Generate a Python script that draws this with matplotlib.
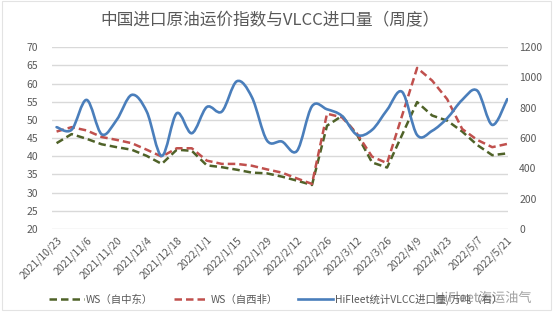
import numpy as np
import matplotlib
matplotlib.use('Agg')
import matplotlib.pyplot as plt
from matplotlib.path import Path
from matplotlib.patches import PathPatch, Rectangle
from matplotlib.lines import Line2D
import matplotlib.patheffects as pe

plt.rcParams['font.family'] = ['Noto Sans CJK SC', 'DejaVu Sans']

# Weekly data
weeks = ['2021/10/23', '2021/10/30', '2021/11/6', '2021/11/13', '2021/11/20', '2021/11/27',
         '2021/12/4', '2021/12/11', '2021/12/18', '2021/12/25', '2022/1/1', '2022/1/8',
         '2022/1/15', '2022/1/22', '2022/1/29', '2022/2/5', '2022/2/12', '2022/2/19',
         '2022/2/26', '2022/3/5', '2022/3/12', '2022/3/19', '2022/3/26', '2022/4/2',
         '2022/4/9', '2022/4/16', '2022/4/23', '2022/4/30', '2022/5/7', '2022/5/14', '2022/5/21']

ws_mideast = [43.6, 46.1, 44.8, 43.3, 42.5, 41.8, 40.1, 37.9, 41.8, 41.5, 37.5, 37.0,
              36.3, 35.5, 35.3, 34.4, 33.3, 32.1, 48.4, 51.1, 45.9, 38.3, 36.9, 45.9,
              54.9, 51.2, 49.8, 46.8, 43.1, 40.3, 40.8]
ws_westafrica = [46.8, 48.0, 47.1, 45.3, 44.5, 43.6, 41.8, 39.9, 42.2, 42.2, 38.8, 37.9,
                 37.9, 37.4, 36.4, 35.5, 33.9, 32.4, 51.7, 50.7, 46.2, 39.9, 38.1, 51.2,
                 64.3, 60.8, 55.7, 47.5, 44.5, 42.5, 43.4]
vlcc_imports = [672, 655, 852, 625, 720, 885, 775, 482, 764, 632, 805, 775,
                975, 870, 585, 577, 515, 810, 790, 746, 621, 654, 786, 905,
                620, 648, 731, 852, 913, 687, 857]

labels = ['WS（自中东）', 'WS（自西非）', 'HiFleet统计VLCC进口量/万吨（右）']
title = '中国进口原油运价指数与VLCC进口量（周度）'

GREEN = '#4F6228'
RED = '#C0504D'
BLUE = '#4A7EBB'
GRID = '#D9D9D9'
TXT = '#595959'


def smooth_path(x, y):
    # Excel-style smoothed line: Bezier segments with Catmull-Rom tangents
    pts = np.column_stack([x, y]).astype(float)
    n = len(pts)
    verts = [pts[0]]
    codes = [Path.MOVETO]
    for i in range(n - 1):
        p0 = pts[i - 1] if i > 0 else pts[i]
        p1 = pts[i]
        p2 = pts[i + 1]
        p3 = pts[i + 2] if i + 2 < n else pts[i + 1]
        c1 = p1 + (p2 - p0) / 6.0
        c2 = p2 - (p3 - p1) / 6.0
        verts += [c1, c2, p2]
        codes += [Path.CURVE4] * 3
    return Path(verts, codes)


fig = plt.figure(figsize=(5.54, 3.23), dpi=100)
ax = fig.add_axes([0.094, 0.291, 0.823, 0.563])
ax2 = ax.twinx()

x = np.arange(len(weeks))

ax.plot(x, ws_mideast, color=GREEN, lw=1.8, linestyle=(0, (3, 1.6)), zorder=3)
ax.plot(x, ws_westafrica, color=RED, lw=1.8, linestyle=(0, (3, 1.6)), zorder=3)
ax2.add_patch(PathPatch(smooth_path(x, vlcc_imports), fill=False, edgecolor=BLUE,
                        lw=1.9, capstyle='round', joinstyle='round', zorder=4))

ax.set_ylim(20, 70)
ax.set_yticks(np.arange(20, 71, 5))
ax2.set_ylim(0, 1200)
ax2.set_yticks(np.arange(0, 1201, 200))
ax.set_xlim(-0.3, len(weeks) - 1 + 0.05)

ax.set_xticks(x[::2])
ax.set_xticklabels(weeks[::2], rotation=45, ha='right', va='top',
                   rotation_mode='anchor', fontsize=7.3, color=TXT)

ax.grid(axis='y', color=GRID, lw=1.0)
ax.set_axisbelow(True)
for a in (ax, ax2):
    for s in a.spines.values():
        s.set_visible(False)
    a.tick_params(length=0, labelsize=7.5, colors=TXT)
ax.tick_params(axis='y', pad=10)
ax2.tick_params(axis='y', pad=8)
ax.tick_params(axis='x', pad=4)

fig.text(0.487, 0.935, title, ha='center', va='center', fontsize=12, color=TXT)

handles = [Line2D([], [], color=GREEN, lw=1.8, linestyle=(0, (3, 1.6))),
           Line2D([], [], color=RED, lw=1.8, linestyle=(0, (3, 1.6))),
           Line2D([], [], color=BLUE, lw=1.9)]
fig.legend(handles, labels, loc='center left', bbox_to_anchor=(0.072, 0.072),
           ncol=3, frameon=False, fontsize=7.5, handlelength=3.3, handletextpad=0.2,
           columnspacing=2.0, labelcolor=TXT)

# watermark
fig.text(0.785, 0.076, 'HiFleet海运油气', ha='left', va='center', fontsize=9.5,
         color='#9A9A9A', alpha=0.9,
         path_effects=[pe.withStroke(linewidth=2, foreground='white')])

fig.patches.append(Rectangle((0.003, 0.04), 0.992, 0.957, transform=fig.transFigure,
                             fill=False, edgecolor='#E3E3E3', lw=0.8))

fig.savefig('out.png', dpi=100, facecolor='white')
